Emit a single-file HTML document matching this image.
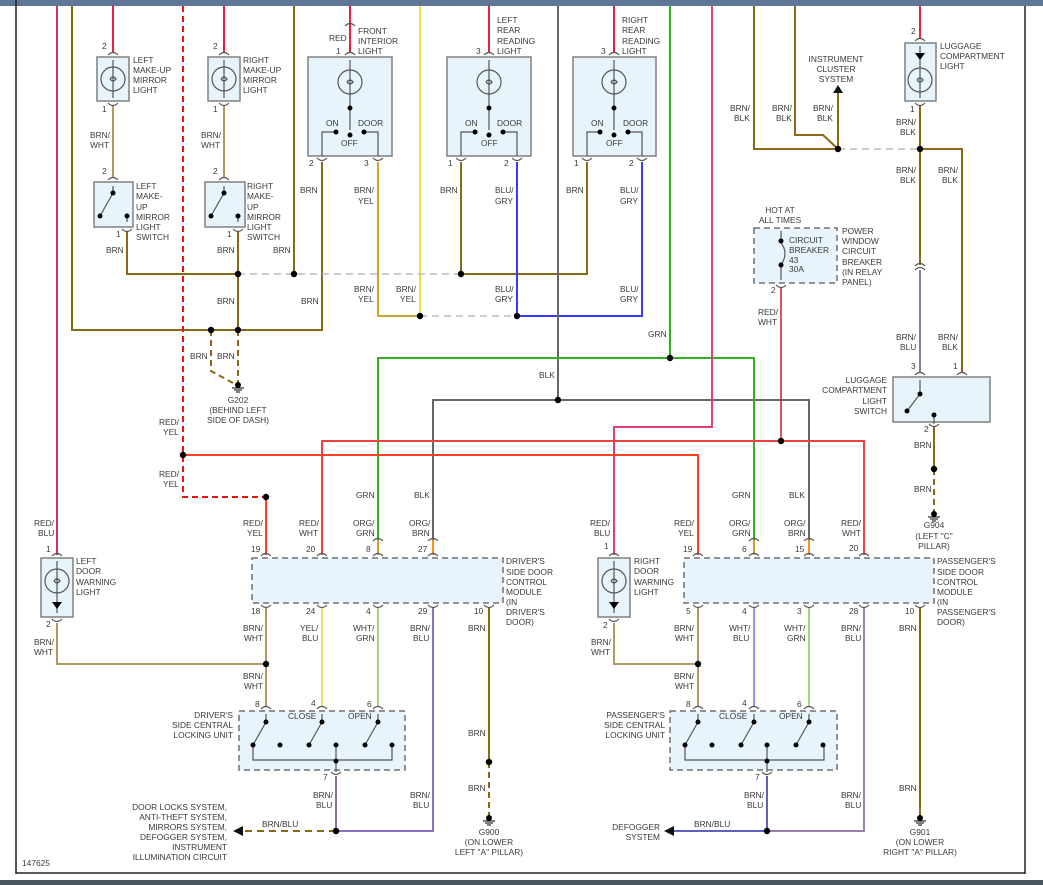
<!DOCTYPE html>
<html><head><meta charset="utf-8"><style>
html,body{margin:0;padding:0;background:#fff;}
svg{display:block;}
text{font-family:"Liberation Sans",sans-serif;font-size:8.4px;fill:#3a3a3a;}
.w{fill:none;stroke-width:2;}
.box{fill:#e8f4fb;stroke:#808080;stroke-width:1.5;}
.dbox{fill:#e8f4fb;stroke:#707070;stroke-width:1.5;stroke-dasharray:6,4;}
.k{fill:none;stroke:#555;stroke-width:1.2;}
.gd{fill:none;stroke:#bbb;stroke-width:1.5;stroke-dasharray:7,5;}
</style></head><body>
<svg width="1043" height="885" viewBox="0 0 1043 885" xmlns="http://www.w3.org/2000/svg">
<g>
<text x="38" y="6">BLU</text><text x="93" y="6">BLU</text><text x="205" y="6">BLU</text><text x="331" y="6">BLU</text><text x="471" y="6">BLU</text><text x="596" y="6">BLU</text><text x="692" y="6">BLU</text><text x="901" y="6">BLU</text>
</g>
<rect x="0" y="0" width="1043" height="6" fill="#5f7796"/>
<rect x="0" y="880" width="1043" height="5" fill="#4a5560"/>
<line x1="16" y1="0" x2="16" y2="874" stroke="#222" stroke-width="1.5"/>
<line x1="16" y1="873" x2="1025" y2="873" stroke="#222" stroke-width="1.5"/>
<line x1="1025" y1="6" x2="1025" y2="874" stroke="#222" stroke-width="1.5"/>

<rect class="box" x="97" y="57" width="32" height="44"/>
<rect class="box" x="94" y="182" width="39" height="45"/>
<rect class="box" x="208" y="57" width="32" height="44"/>
<rect class="box" x="205" y="182" width="40" height="45"/>
<rect class="box" x="308" y="57" width="84" height="99"/>
<rect class="box" x="447" y="57" width="84" height="99"/>
<rect class="box" x="573" y="57" width="83" height="99"/>
<rect class="box" x="905" y="43" width="31" height="58"/>
<rect class="dbox" x="754" y="228" width="83" height="55"/>
<rect class="box" x="893" y="377" width="97" height="45"/>
<rect class="dbox" x="252" y="558" width="251" height="45"/>
<rect class="dbox" x="684" y="558" width="250" height="45"/>
<rect class="box" x="41" y="558" width="32" height="59"/>
<rect class="box" x="598" y="558" width="32" height="59"/>
<rect class="dbox" x="239" y="711" width="166" height="59"/>
<rect class="dbox" x="670" y="711" width="167" height="59"/>

<g class="w">
<path d="M57 6V555" stroke="#d0306a"/>
<path d="M72 6V330H322V162" stroke="#8b6914"/>
<path d="M113 6V52" stroke="#e8203a"/>
<path d="M224 6V52" stroke="#e8203a"/>
<path d="M113 106V177" stroke="#b09a60"/>
<path d="M224 106V177" stroke="#b09a60"/>
<path d="M127 232V274H238" stroke="#8b6914"/>
<path d="M238 232V330" stroke="#8b6914"/>
<path d="M294 6V274" stroke="#8b6914"/>
<path d="M350 6V52" stroke="#e8203a"/>
<path d="M378 162V316H420" stroke="#c8a830"/>
<path d="M420 6V316" stroke="#f0e040"/>
<path d="M489 6V52" stroke="#e8203a"/>
<path d="M461 162V274H587V162" stroke="#8b6914"/>
<path d="M517 162V316H642V162" stroke="#3838ff"/>
<path d="M614 6V52" stroke="#e8203a"/>
<path d="M558 6V400" stroke="#666"/>
<path d="M433 555V400H809V555" stroke="#666"/>
<path d="M670 6V358" stroke="#33b020"/>
<path d="M378 540V358H754V540" stroke="#33b020"/>
<path d="M712 6V427H614V555" stroke="#e0407a"/>
<path d="M183 455H698V555" stroke="#ff4020"/>
<path d="M322 555V441H864V555" stroke="#f04040"/>
<path d="M781 288V441" stroke="#c82020" stroke-width="1.5"/>
<path d="M754 6V149H838" stroke="#8b6914"/>
<path d="M795 6V135H823L838 149" stroke="#8b6914"/>
<path d="M838 149V92" stroke="#8b6914"/>
<path d="M920 6V38" stroke="#e8203a"/>
<path d="M920 106V265" stroke="#8b6914"/>
<path d="M920 270V372" stroke="#8a7aa0"/>
<path d="M920 149H962V372" stroke="#8b6914"/>
<path d="M934 427V469" stroke="#8b6914"/>
<path d="M266 497V555" stroke="#ff4020"/>
<path d="M378 540V555" stroke="#d0a030"/>
<path d="M433 540V555" stroke="#ff9020"/>
<path d="M754 540V555" stroke="#d0a030"/>
<path d="M809 540V555" stroke="#ff9020"/>
<path d="M57 623V664H266" stroke="#b09a60"/>
<path d="M614 623V664H698" stroke="#b09a60"/>
<path d="M266 608V706" stroke="#b09a60"/>
<path d="M322 608V706" stroke="#e8e070"/>
<path d="M378 608V706" stroke="#a8d080"/>
<path d="M433 608V831H336" stroke="#8a70c0"/>
<path d="M489 608V762" stroke="#8b6914"/>
<path d="M336 776V831" stroke="#8a70a0"/>
<path d="M698 608V706" stroke="#b09a60"/>
<path d="M754 608V706" stroke="#9090ff"/>
<path d="M809 608V706" stroke="#a8d080"/>
<path d="M864 608V831H767" stroke="#9a80b0"/>
<path d="M767 776V831H672" stroke="#6060c0"/>
<path d="M920 608V818" stroke="#8b6914"/>
</g>
<g fill="none" stroke-width="2">
<path d="M183 6V497H266" stroke="#f01010" stroke-dasharray="6,4"/>
<path d="M238 330V383M211 330V371L233 383" stroke="#8b6914" stroke-dasharray="6,4"/>
<path d="M934 469V512" stroke="#8b6914" stroke-dasharray="6,4"/>
<path d="M489 762V818" stroke="#8b6914" stroke-dasharray="6,4"/>
<path d="M336 831H243" stroke="#8b6914" stroke-dasharray="7,5"/>
</g>
<path class="gd" d="M238 274H461"/>
<path class="gd" d="M420 316H517"/>
<path class="gd" d="M838 149H920"/>
<polygon points="233,831 243,826 243,836" fill="#111"/>
<polygon points="664,831 674,826 674,836" fill="#111"/>
<polygon points="838,85 833,93 843,93" fill="#111"/>
<g fill="#000">
<circle cx="238" cy="274" r="3.2"/><circle cx="294" cy="274" r="3.2"/><circle cx="461" cy="274" r="3.2"/>
<circle cx="211" cy="330" r="3.2"/><circle cx="238" cy="330" r="3.2"/>
<circle cx="420" cy="316" r="3.2"/><circle cx="517" cy="316" r="3.2"/>
<circle cx="670" cy="358" r="3.2"/><circle cx="558" cy="400" r="3.2"/>
<circle cx="183" cy="455" r="3.2"/><circle cx="781" cy="441" r="3.2"/>
<circle cx="266" cy="497" r="3.2"/>
<circle cx="838" cy="149" r="3.2"/><circle cx="920" cy="149" r="3.2"/>
<circle cx="934" cy="469" r="3.2"/>
<circle cx="266" cy="664" r="3.2"/><circle cx="698" cy="664" r="3.2"/>
<circle cx="336" cy="831" r="3.2"/><circle cx="767" cy="831" r="3.2"/>
<circle cx="489" cy="762" r="3.2"/>
</g>
<g fill="#000" stroke="#000" stroke-width="1">
<circle cx="238" cy="385" r="2.5"/><path d="M232 388h12M234 390h8M236 392h4"/>
<circle cx="934" cy="514" r="2.5"/><path d="M928 517h12M930 519h8M932 521h4"/>
<circle cx="489" cy="818" r="2.5"/><path d="M483 821h12M485 823h8M487 825h4"/>
<circle cx="920" cy="818" r="2.5"/><path d="M914 821h12M916 823h8M918 825h4"/>
</g>

<g class="k">
<path d="M108 55q5-5 10 0M108 103q5 5 10 0M108 180q5-5 10 0M122 229q5 5 10 0"/>
<path d="M219 55q5-5 10 0M219 103q5 5 10 0M219 180q5-5 10 0M233 229q5 5 10 0"/>
<path d="M345 55q5-5 10 0M317 158q5 5 10 0M373 158q5 5 10 0M345 26q5-5 10 0"/>
<path d="M484 55q5-5 10 0M456 158q5 5 10 0M512 158q5 5 10 0"/>
<path d="M609 55q5-5 10 0M582 158q5 5 10 0M637 158q5 5 10 0"/>
<path d="M915 41q5-5 10 0M915 103q5 5 10 0M915 266q5-5 10 0M915 270q5-5 10 0"/>
<path d="M776 285q5 5 10 0M915 375q5-5 10 0M957 375q5-5 10 0M929 424q5 5 10 0"/>
<path d="M52 556q5-5 10 0M52 619q5 5 10 0M609 556q5-5 10 0M609 619q5 5 10 0"/>
<path d="M261 556q5-5 10 0M317 556q5-5 10 0M373 556q5-5 10 0M428 556q5-5 10 0M373 541q5-5 10 0M428 541q5-5 10 0"/>
<path d="M261 605q5 5 10 0M317 605q5 5 10 0M373 605q5 5 10 0M428 605q5 5 10 0M484 605q5 5 10 0"/>
<path d="M693 556q5-5 10 0M749 556q5-5 10 0M804 556q5-5 10 0M859 556q5-5 10 0M749 541q5-5 10 0M804 541q5-5 10 0"/>
<path d="M693 605q5 5 10 0M749 605q5 5 10 0M804 605q5 5 10 0M859 605q5 5 10 0M915 605q5 5 10 0"/>
<path d="M261 709q5-5 10 0M317 709q5-5 10 0M373 709q5-5 10 0M331 772q5 5 10 0"/>
<path d="M693 709q5-5 10 0M749 709q5-5 10 0M804 709q5-5 10 0M762 772q5 5 10 0"/>
</g>

<g class="k">
<circle cx="113" cy="79" r="12"/><path d="M113 60v38M110 79q3-4 6 0q-3 4-6 0"/>
<circle cx="224" cy="79" r="12"/><path d="M224 60v38M221 79q3-4 6 0q-3 4-6 0"/>
<circle cx="350" cy="82" r="12"/><path d="M350 60v70M347 82q3-4 6 0q-3 4-6 0M322 156v-24h14M378 156v-24h-14"/>
<circle cx="489" cy="82" r="12"/><path d="M489 60v70M486 82q3-4 6 0q-3 4-6 0M461 156v-24h14M517 156v-24h-14"/>
<circle cx="614" cy="82" r="12"/><path d="M614 60v70M611 82q3-4 6 0q-3 4-6 0M587 156v-24h14M642 156v-24h-14"/>
<circle cx="920" cy="80" r="12"/><path d="M920 46v52M917 80q3-4 6 0q-3 4-6 0"/>
<circle cx="57" cy="581" r="12"/><path d="M57 561v52M54 581q3-4 6 0q-3 4-6 0"/>
<circle cx="614" cy="581" r="12"/><path d="M614 561v52M611 581q3-4 6 0q-3 4-6 0"/>
<path d="M113 186v7L100 216M127 222v-6"/>
<path d="M224 186v7L211 216M238 222v-6"/>
<path d="M781 231v12q8 10 0 22v15"/>
<path d="M920 380v14L907 411M934 424v-9"/>
<path d="M266 714v8L253 745M322 714v8L309 745M378 714v8L365 745M253 745v15h139v-15M336 745v27"/>
<path d="M698 714v8L685 745M754 714v8L741 745M809 714v8L796 745M685 745v15h139v-15M767 745v27"/>
</g>
<g fill="#000">
<circle cx="350" cy="108" r="2.5"/><circle cx="336" cy="132" r="2.5"/><circle cx="364" cy="132" r="2.5"/><circle cx="350" cy="135" r="2.5"/>
<circle cx="489" cy="108" r="2.5"/><circle cx="475" cy="132" r="2.5"/><circle cx="503" cy="132" r="2.5"/><circle cx="489" cy="135" r="2.5"/>
<circle cx="614" cy="108" r="2.5"/><circle cx="600" cy="132" r="2.5"/><circle cx="628" cy="132" r="2.5"/><circle cx="614" cy="135" r="2.5"/>
<circle cx="113" cy="193" r="2.5"/><circle cx="100" cy="216" r="2.5"/><circle cx="127" cy="216" r="2.5"/>
<circle cx="224" cy="193" r="2.5"/><circle cx="211" cy="216" r="2.5"/><circle cx="238" cy="216" r="2.5"/>
<circle cx="781" cy="241" r="2.5"/><circle cx="781" cy="265" r="2.5"/>
<circle cx="920" cy="394" r="2.5"/><circle cx="907" cy="411" r="2.5"/><circle cx="934" cy="415" r="2.5"/>
<circle cx="266" cy="722" r="2.5"/><circle cx="253" cy="745" r="2.5"/><circle cx="280" cy="745" r="2.5"/><circle cx="322" cy="722" r="2.5"/><circle cx="309" cy="745" r="2.5"/><circle cx="336" cy="745" r="2.5"/><circle cx="378" cy="722" r="2.5"/><circle cx="365" cy="745" r="2.5"/><circle cx="392" cy="745" r="2.5"/><circle cx="336" cy="761" r="2.5"/>
<circle cx="698" cy="722" r="2.5"/><circle cx="685" cy="745" r="2.5"/><circle cx="712" cy="745" r="2.5"/><circle cx="754" cy="722" r="2.5"/><circle cx="741" cy="745" r="2.5"/><circle cx="767" cy="745" r="2.5"/><circle cx="809" cy="722" r="2.5"/><circle cx="796" cy="745" r="2.5"/><circle cx="823" cy="745" r="2.5"/><circle cx="767" cy="761" r="2.5"/>
<polygon points="915,53 925,53 920,60"/><polygon points="52,602 62,602 57,609"/><polygon points="609,602 619,602 614,609"/>
</g>

<g>
<text x="102" y="49">2</text><text x="133" y="63">LEFT</text><text x="133" y="73">MAKE-UP</text><text x="133" y="83">MIRROR</text><text x="133" y="93">LIGHT</text>
<text x="102" y="112">1</text><text x="90" y="138">BRN/</text><text x="90" y="148">WHT</text><text x="102" y="174">2</text>
<text x="136" y="189">LEFT</text><text x="136" y="199">MAKE-</text><text x="136" y="210">UP</text><text x="136" y="220">MIRROR</text><text x="136" y="230">LIGHT</text><text x="136" y="240">SWITCH</text>
<text x="116" y="237">1</text><text x="106" y="253">BRN</text>
<text x="213" y="49">2</text><text x="243" y="63">RIGHT</text><text x="243" y="73">MAKE-UP</text><text x="243" y="83">MIRROR</text><text x="243" y="93">LIGHT</text>
<text x="213" y="112">1</text><text x="201" y="138">BRN/</text><text x="201" y="148">WHT</text><text x="213" y="174">2</text>
<text x="247" y="189">RIGHT</text><text x="247" y="199">MAKE-</text><text x="247" y="210">UP</text><text x="247" y="220">MIRROR</text><text x="247" y="230">LIGHT</text><text x="247" y="240">SWITCH</text>
<text x="227" y="237">1</text><text x="217" y="253">BRN</text><text x="273" y="253">BRN</text>
<text x="217" y="304">BRN</text><text x="301" y="304">BRN</text><text x="190" y="359">BRN</text><text x="217" y="359">BRN</text>
<text x="238" y="403" text-anchor="middle">G202</text><text x="238" y="413" text-anchor="middle">(BEHIND LEFT</text><text x="238" y="423" text-anchor="middle">SIDE OF DASH)</text>
<text x="159" y="425">RED/</text><text x="163" y="435">YEL</text><text x="159" y="477">RED/</text><text x="163" y="487">YEL</text>
<text x="329" y="41">RED</text><text x="336" y="54">1</text><text x="358" y="34">FRONT</text><text x="358" y="44">INTERIOR</text><text x="358" y="54">LIGHT</text>
<text x="326" y="126">ON</text><text x="358" y="126">DOOR</text><text x="341" y="146">OFF</text>
<text x="309" y="166">2</text><text x="364" y="166">3</text><text x="300" y="193">BRN</text><text x="354" y="193">BRN/</text><text x="358" y="204">YEL</text>
<text x="354" y="292">BRN/</text><text x="358" y="302">YEL</text><text x="396" y="292">BRN/</text><text x="400" y="302">YEL</text>
<text x="497" y="23">LEFT</text><text x="497" y="33">REAR</text><text x="497" y="44">READING</text><text x="497" y="54">LIGHT</text><text x="476" y="54">3</text>
<text x="465" y="126">ON</text><text x="497" y="126">DOOR</text><text x="481" y="146">OFF</text>
<text x="448" y="166">1</text><text x="504" y="166">2</text><text x="440" y="193">BRN</text><text x="495" y="193">BLU/</text><text x="495" y="204">GRY</text>
<text x="495" y="292">BLU/</text><text x="495" y="302">GRY</text>
<text x="622" y="23">RIGHT</text><text x="622" y="33">REAR</text><text x="622" y="44">READING</text><text x="622" y="54">LIGHT</text><text x="601" y="54">3</text>
<text x="591" y="126">ON</text><text x="623" y="126">DOOR</text><text x="606" y="146">OFF</text>
<text x="574" y="166">1</text><text x="629" y="166">2</text><text x="566" y="193">BRN</text><text x="620" y="193">BLU/</text><text x="620" y="204">GRY</text>
<text x="620" y="292">BLU/</text><text x="620" y="302">GRY</text>
<text x="648" y="337">GRN</text><text x="539" y="378">BLK</text>
<text x="836" y="62" text-anchor="middle">INSTRUMENT</text><text x="836" y="72" text-anchor="middle">CLUSTER</text><text x="836" y="82" text-anchor="middle">SYSTEM</text>
<text x="730" y="111">BRN/</text><text x="734" y="121">BLK</text><text x="772" y="111">BRN/</text><text x="776" y="121">BLK</text><text x="813" y="111">BRN/</text><text x="817" y="121">BLK</text>
<text x="911" y="34">2</text><text x="940" y="49">LUGGAGE</text><text x="940" y="59">COMPARTMENT</text><text x="940" y="69">LIGHT</text>
<text x="910" y="112">1</text><text x="896" y="125">BRN/</text><text x="900" y="135">BLK</text>
<text x="896" y="173">BRN/</text><text x="900" y="183">BLK</text><text x="938" y="173">BRN/</text><text x="942" y="183">BLK</text>
<text x="780" y="213" text-anchor="middle">HOT AT</text><text x="780" y="223" text-anchor="middle">ALL TIMES</text>
<text x="789" y="243">CIRCUIT</text><text x="789" y="253">BREAKER</text><text x="789" y="263">43</text><text x="789" y="272">30A</text>
<text x="842" y="234">POWER</text><text x="842" y="244">WINDOW</text><text x="842" y="254">CIRCUIT</text><text x="842" y="265">BREAKER</text><text x="842" y="275">(IN RELAY</text><text x="842" y="285">PANEL)</text>
<text x="771" y="293">2</text><text x="758" y="315">RED/</text><text x="758" y="325">WHT</text>
<text x="896" y="340">BRN/</text><text x="900" y="350">BLU</text><text x="938" y="340">BRN/</text><text x="942" y="350">BLK</text>
<text x="911" y="369">3</text><text x="953" y="369">1</text>
<text x="887" y="383" text-anchor="end">LUGGAGE</text><text x="887" y="393" text-anchor="end">COMPARTMENT</text><text x="887" y="404" text-anchor="end">LIGHT</text><text x="887" y="414" text-anchor="end">SWITCH</text>
<text x="924" y="432">2</text><text x="914" y="448">BRN</text><text x="914" y="492">BRN</text>
<text x="934" y="528" text-anchor="middle">G904</text><text x="934" y="539" text-anchor="middle">(LEFT "C"</text><text x="934" y="549" text-anchor="middle">PILLAR)</text>
<text x="356" y="498">GRN</text><text x="414" y="498">BLK</text>
<text x="34" y="526">RED/</text><text x="38" y="536">BLU</text><text x="46" y="552">1</text>
<text x="76" y="564">LEFT</text><text x="76" y="574">DOOR</text><text x="76" y="585">WARNING</text><text x="76" y="595">LIGHT</text>
<text x="46" y="627">2</text><text x="34" y="645">BRN/</text><text x="34" y="655">WHT</text>
<text x="243" y="526">RED/</text><text x="247" y="536">YEL</text><text x="299" y="526">RED/</text><text x="299" y="536">WHT</text><text x="353" y="526">ORG/</text><text x="356" y="536">GRN</text><text x="409" y="526">ORG/</text><text x="412" y="536">BRN</text>
<text x="251" y="552">19</text><text x="306" y="552">20</text><text x="366" y="552">8</text><text x="418" y="552">27</text>
<text x="251" y="614">18</text><text x="306" y="614">24</text><text x="366" y="614">4</text><text x="418" y="614">29</text><text x="474" y="614">10</text>
<text x="243" y="631">BRN/</text><text x="244" y="641">WHT</text><text x="300" y="631">YEL/</text><text x="302" y="641">BLU</text><text x="353" y="631">WHT/</text><text x="356" y="641">GRN</text><text x="410" y="631">BRN/</text><text x="413" y="641">BLU</text><text x="468" y="631">BRN</text>
<text x="506" y="564">DRIVER'S</text><text x="506" y="575">SIDE DOOR</text><text x="506" y="585">CONTROL</text><text x="506" y="595">MODULE</text><text x="506" y="605">(IN</text><text x="506" y="615">DRIVER'S</text><text x="506" y="625">DOOR)</text>
<text x="243" y="679">BRN/</text><text x="244" y="689">WHT</text>
<text x="255" y="707">8</text><text x="311" y="706">4</text><text x="367" y="707">6</text>
<text x="288" y="719">CLOSE</text><text x="348" y="719">OPEN</text>
<text x="233" y="718" text-anchor="end">DRIVER'S</text><text x="233" y="728" text-anchor="end">SIDE CENTRAL</text><text x="233" y="738" text-anchor="end">LOCKING UNIT</text>
<text x="323" y="780">7</text><text x="313" y="798">BRN/</text><text x="316" y="808">BLU</text><text x="410" y="798">BRN/</text><text x="413" y="808">BLU</text>
<text x="262" y="827">BRN/BLU</text><text x="468" y="736">BRN</text><text x="468" y="791">BRN</text>
<text x="227" y="810" text-anchor="end">DOOR LOCKS SYSTEM,</text><text x="227" y="820" text-anchor="end">ANTI-THEFT SYSTEM,</text><text x="227" y="830" text-anchor="end">MIRRORS SYSTEM,</text><text x="227" y="840" text-anchor="end">DEFOGGER SYSTEM,</text><text x="227" y="850" text-anchor="end">INSTRUMENT</text><text x="227" y="860" text-anchor="end">ILLUMINATION CIRCUIT</text>
<text x="22" y="866">147625</text>
<text x="489" y="835" text-anchor="middle">G900</text><text x="489" y="845" text-anchor="middle">(ON LOWER</text><text x="489" y="855" text-anchor="middle">LEFT "A" PILLAR)</text>
<text x="590" y="526">RED/</text><text x="594" y="536">BLU</text><text x="604" y="549">1</text>
<text x="634" y="564">RIGHT</text><text x="634" y="574">DOOR</text><text x="634" y="585">WARNING</text><text x="634" y="595">LIGHT</text>
<text x="603" y="628">2</text><text x="591" y="645">BRN/</text><text x="591" y="655">WHT</text>
<text x="732" y="498">GRN</text><text x="789" y="498">BLK</text>
<text x="674" y="526">RED/</text><text x="678" y="536">YEL</text><text x="729" y="526">ORG/</text><text x="732" y="536">GRN</text><text x="784" y="526">ORG/</text><text x="788" y="536">BRN</text><text x="841" y="526">RED/</text><text x="842" y="536">WHT</text>
<text x="683" y="552">19</text><text x="742" y="552">6</text><text x="795" y="552">15</text><text x="849" y="551">20</text>
<text x="686" y="614">5</text><text x="742" y="614">4</text><text x="797" y="614">3</text><text x="849" y="614">28</text><text x="905" y="614">10</text>
<text x="674" y="631">BRN/</text><text x="675" y="641">WHT</text><text x="729" y="631">WHT/</text><text x="733" y="641">BLU</text><text x="784" y="631">WHT/</text><text x="787" y="641">GRN</text><text x="841" y="631">BRN/</text><text x="845" y="641">BLU</text><text x="899" y="631">BRN</text>
<text x="937" y="564">PASSENGER'S</text><text x="937" y="575">SIDE DOOR</text><text x="937" y="585">CONTROL</text><text x="937" y="595">MODULE</text><text x="937" y="605">(IN</text><text x="937" y="615">PASSENGER'S</text><text x="937" y="625">DOOR)</text>
<text x="674" y="679">BRN/</text><text x="675" y="689">WHT</text>
<text x="686" y="707">8</text><text x="742" y="706">4</text><text x="797" y="707">6</text>
<text x="719" y="719">CLOSE</text><text x="779" y="719">OPEN</text>
<text x="665" y="718" text-anchor="end">PASSENGER'S</text><text x="665" y="728" text-anchor="end">SIDE CENTRAL</text><text x="665" y="738" text-anchor="end">LOCKING UNIT</text>
<text x="755" y="780">7</text><text x="744" y="798">BRN/</text><text x="747" y="808">BLU</text><text x="841" y="798">BRN/</text><text x="845" y="808">BLU</text>
<text x="694" y="827">BRN/BLU</text>
<text x="660" y="830" text-anchor="end">DEFOGGER</text><text x="660" y="840" text-anchor="end">SYSTEM</text>
<text x="899" y="791">BRN</text>
<text x="920" y="835" text-anchor="middle">G901</text><text x="920" y="845" text-anchor="middle">(ON LOWER</text><text x="920" y="855" text-anchor="middle">RIGHT "A" PILLAR)</text>
</g>
</svg>
</body></html>
